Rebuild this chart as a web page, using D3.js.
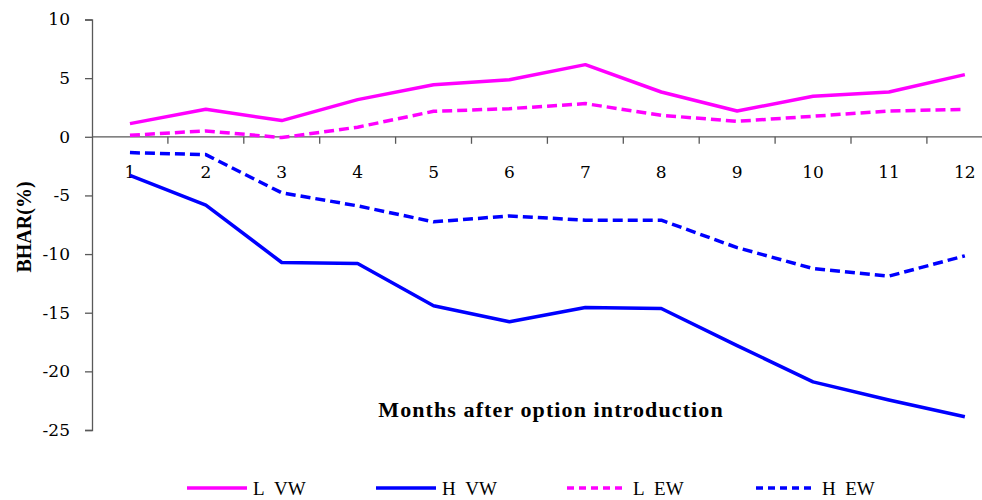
<!DOCTYPE html>
<html>
<head>
<meta charset="utf-8">
<script src="https://cdn.jsdelivr.net/npm/d3@7"></script>
<style>
  html, body { margin: 0; padding: 0; background: #fff; }
  svg { display: block; }
  text { font-family: "Liberation Serif", "DejaVu Serif", serif; fill: #000; }
</style>
</head>
<body>
<svg id="chart" width="982" height="500"></svg>
<script>
const months = [1, 2, 3, 4, 5, 6, 7, 8, 9, 10, 11, 12];
const lVW = [1.12, 2.34, 1.38, 3.17, 4.44, 4.87, 6.15, 3.82, 2.2, 3.45, 3.82, 5.3];
const hVW = [-3.28, -5.83, -10.72, -10.8, -14.41, -15.77, -14.55, -14.64, -17.8, -20.9, -22.44, -23.87];
const lEW = [0.13, 0.5, -0.07, 0.82, 2.17, 2.4, 2.83, 1.83, 1.32, 1.75, 2.2, 2.34];
const hEW = [-1.35, -1.52, -4.78, -5.89, -7.25, -6.75, -7.11, -7.11, -9.45, -11.23, -11.88, -10.15];
const yTicks = [10, 5, 0, -5, -10, -15, -20, -25];
const seriesNames = ["L VW", "H VW", "L EW", "H EW"];

const series = [
  { name: seriesNames[0], values: lVW, color: "#FF00FF", dash: null },
  { name: seriesNames[1], values: hVW, color: "#0000FF", dash: null },
  { name: seriesNames[2], values: lEW, color: "#FF00FF", dash: "10,5" },
  { name: seriesNames[3], values: hEW, color: "#0000FF", dash: "10,5" }
];

const svg = d3.select("#chart");
const axisColor = "#595959";
const tickFont = "DejaVu Serif";

const x = d3.scaleBand().domain(months).range([92, 92 + 12 * 75.9]).padding(0);
const y = d3.scaleLinear().domain([-25, 10]).range([430, 19.5]);
const cx = m => x(m) + x.bandwidth() / 2;

// Y axis
const yAxis = d3.axisLeft(y).tickValues(yTicks).tickSize(7).tickPadding(15).tickFormat(d => String(d));
const gy = svg.append("g").attr("transform", "translate(92,0)").call(yAxis);
gy.select(".domain").attr("stroke", axisColor).attr("stroke-width", 1.3);
gy.selectAll(".tick line").attr("stroke", axisColor).attr("stroke-width", 1.3);
gy.selectAll(".tick text").style("font-size", "17px").style("font-family", tickFont).attr("fill", "#000");

// X axis along y=0
const gx = svg.append("g").attr("transform", `translate(0,${y(0)})`);
gx.append("line").attr("x1", 92).attr("x2", 982).attr("y1", 0).attr("y2", 0)
  .attr("stroke", axisColor).attr("stroke-width", 1.3);
gx.selectAll("line.tk").data(months).enter().append("line").attr("class", "tk")
  .attr("x1", d => x(d) + x.bandwidth()).attr("x2", d => x(d) + x.bandwidth())
  .attr("y1", 0).attr("y2", 7).attr("stroke", axisColor).attr("stroke-width", 1.3);
gx.selectAll("text").data(months).enter().append("text")
  .attr("x", d => cx(d)).attr("y", 41).attr("text-anchor", "middle")
  .style("font-size", "17px").style("font-family", tickFont).text(d => d);

// Lines
const line = d3.line().x((d, i) => cx(months[i])).y(d => y(d));
svg.selectAll("path.series").data(series).enter().append("path").attr("class", "series")
  .attr("d", d => line(d.values))
  .attr("fill", "none").attr("stroke", d => d.color).attr("stroke-width", 3.5)
  .attr("stroke-dasharray", d => d.dash).attr("stroke-linejoin", "round");

// Axis titles
svg.append("text").attr("transform", "translate(31,227) rotate(-90)")
  .attr("text-anchor", "middle").style("font-size", "20px").style("font-weight", "bold").text("BHAR(%)");
svg.append("text").attr("x", 551).attr("y", 417).attr("text-anchor", "middle")
  .style("font-size", "22px").style("font-weight", "bold").style("letter-spacing", "1.1px")
  .text("Months after option introduction");

// Legend
const legX = [187, 376, 567, 756];
const leg = svg.selectAll("g.leg").data(series).enter().append("g").attr("class", "leg")
  .attr("transform", (d, i) => `translate(${legX[i]},488)`);
leg.append("line").attr("x1", 0).attr("x2", 60).attr("y1", 0).attr("y2", 0)
  .attr("stroke", d => d.color).attr("stroke-width", 3.5)
  .attr("stroke-dasharray", d => d.dash ? "7,5" : null);
leg.append("text").attr("x", 66).attr("y", 6.5).style("font-size", "19px").text(d => d.name.replace(" ", "\u00a0\u00a0"));
</script>
</body>
</html>
